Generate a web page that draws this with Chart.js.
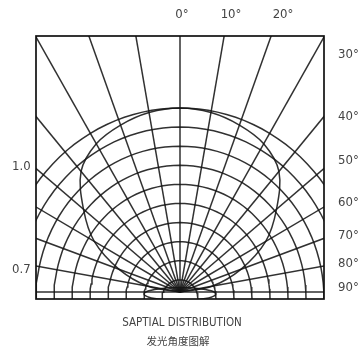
<!DOCTYPE html>
<html>
<head>
<meta charset="utf-8">
<script src="https://cdn.jsdelivr.net/npm/chart.js@4.4.1/dist/chart.umd.min.js"></script>
<style>
html, body { margin: 0; padding: 0; background: #fff; }
#wrap { position: relative; width: 358px; height: 349px; }
</style>
</head>
<body>
<div id="wrap"><canvas id="myChart"></canvas></div>
<script>
// polar grid: spokes every 10 deg, rings every 0.1
const gridAngles = [-90, -80, -70, -60, -50, -40, -30, -20, -10, 0, 10, 20, 30, 40, 50, 60, 70, 80, 90];
const gridRings = [0.1, 0.2, 0.3, 0.4, 0.5, 0.6, 0.7, 0.8, 0.9, 1.0];

// relative intensity vs angle
const curveAngles = [-90, -80, -70, -60, -50, -40, -30, -20, -10, 0, 10, 20, 30, 40, 50, 60, 70, 80, 90];
const curveValues = [0, 0.18, 0.36, 0.55, 0.70, 0.855, 0.93, 0.965, 0.99, 1.0, 0.99, 0.965, 0.93, 0.855, 0.70, 0.55, 0.36, 0.18, 0];

// small flat oval at the source
const ovalX = [0.2, 0.193, 0.173, 0.141, 0.1, 0.052, 0, -0.052, -0.1, -0.141, -0.173, -0.193, -0.2,
               -0.193, -0.173, -0.141, -0.1, -0.052, 0, 0.052, 0.1, 0.141, 0.173, 0.193, 0.2];
const ovalY = [-0.011, -0.002, 0.0065, 0.0137, 0.0193, 0.0228, 0.024, 0.0228, 0.0193, 0.0137, 0.0065, -0.002, -0.011,
               -0.020, -0.0285, -0.0357, -0.0413, -0.0448, -0.046, -0.0448, -0.0413, -0.0357, -0.0285, -0.020, -0.011];

const topLabels = ['0°', '10°', '20°'];
const sideLabels = ['30°', '40°', '50°', '60°', '70°', '80°', '90°'];
const leftLabels = ['1.0', '0.7'];
const titleText = 'SAPTIAL DISTRIBUTION';
const subtitleText = '发光角度图解';

// label placement (px)
const topLabelX = [182, 231, 283];
const sideLabelY = [55, 117, 161, 203, 236, 264, 288];
const leftLabelY = [167, 270];

const Y_MIN = -0.038;
const Y_MAX = 1.391;

const rad = d => d * Math.PI / 180;
const lineColor = 'rgba(20,20,20,0.88)';

const datasets = [];

gridAngles.forEach(a => {
    datasets.push({
        data: [{x: 0, y: 0}, {x: 2 * Math.sin(rad(a)), y: 2 * Math.cos(rad(a))}]
    });
});

// rings sit on the bottom frame line, the outer one touching 1.0 on the axis
gridRings.forEach(r => {
    const pts = [];
    for (let t = 0; t <= 360; t += 3) {
        pts.push({x: r * Math.sin(rad(t)), y: Y_MIN + r * (1 - Y_MIN) * Math.cos(rad(t))});
    }
    datasets.push({data: pts});
});

datasets.push({
    data: curveAngles.map((a, i) => ({x: curveValues[i] * Math.sin(rad(a)), y: curveValues[i] * Math.cos(rad(a))})),
    tension: 0.35
});

datasets.push({
    data: ovalX.map((x, i) => ({x: x, y: ovalY[i]})),
    tension: 0.3
});

datasets.forEach(ds => {
    ds.showLine = true;
    ds.borderColor = lineColor;
    ds.borderWidth = 1.5;
    ds.pointRadius = 0;
    ds.clip = 0;
});

const frameAndText = {
    id: 'frameAndText',
    afterDatasetsDraw(chart) {
        const {ctx, chartArea: a} = chart;
        ctx.save();
        ctx.strokeStyle = '#111';
        ctx.lineWidth = 1.7;
        ctx.strokeRect(a.left, a.top, a.right - a.left, a.bottom - a.top);

        ctx.fillStyle = '#444';
        ctx.textBaseline = 'middle';
        ctx.font = '13px "Liberation Sans Narrow", "DejaVu Sans Condensed", sans-serif';
        ctx.textAlign = 'center';
        topLabels.forEach((t, i) => ctx.fillText(t, topLabelX[i], 15));
        ctx.textAlign = 'left';
        sideLabels.forEach((t, i) => ctx.fillText(t, 338, sideLabelY[i]));
        leftLabels.forEach((t, i) => ctx.fillText(t, 12, leftLabelY[i]));

        ctx.textAlign = 'center';
        ctx.font = '11.5px "Liberation Sans Narrow", "DejaVu Sans Condensed", sans-serif';
        ctx.fillText(titleText, 182, 323);
        ctx.font = '10.5px "Noto Sans CJK SC", sans-serif';
        ctx.fillText(subtitleText, 178, 341);
        ctx.restore();
    }
};

const ctx = document.getElementById('myChart').getContext('2d');
new Chart(ctx, {
    type: 'scatter',
    data: {datasets: datasets},
    options: {
        animation: false,
        responsive: true,
        maintainAspectRatio: false,
        layout: {
            padding: {left: 36, right: 34, top: 36, bottom: 50}
        },
        scales: {
            x: {type: 'linear', display: false, min: -0.8, max: 0.8},
            y: {type: 'linear', display: false, min: Y_MIN, max: Y_MAX}
        },
        plugins: {
            legend: {display: false},
            tooltip: {enabled: false}
        }
    },
    plugins: [frameAndText]
});
</script>
</body>
</html>
